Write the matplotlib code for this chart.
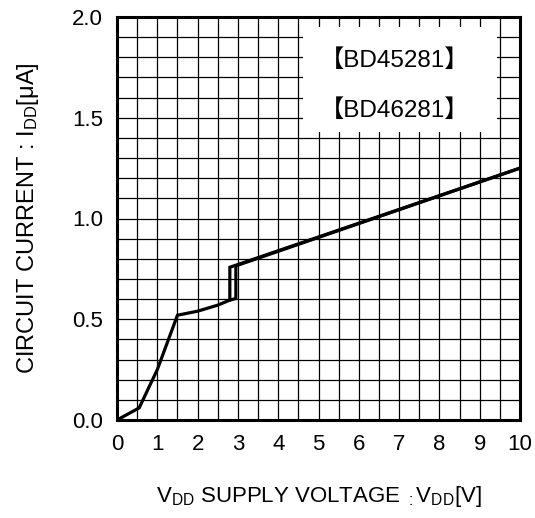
import matplotlib
matplotlib.use("Agg")
import matplotlib.pyplot as plt
from matplotlib.patches import Rectangle
import numpy as np

plt.rcParams['font.family'] = ['Liberation Sans', 'Noto Sans CJK JP', 'DejaVu Sans']
plt.rcParams['mathtext.fontset'] = 'custom'
plt.rcParams['mathtext.rm'] = 'Liberation Sans'
plt.rcParams['mathtext.it'] = 'Liberation Sans'

# Data
vdd_a = [0.0, 0.55, 1.0, 1.5, 2.0, 2.5, 2.8, 2.8, 10.0]
idd_a = [0.0, 0.06, 0.25, 0.52, 0.54, 0.57, 0.595, 0.758, 1.25]
vdd_b = [2.8, 2.95, 2.95, 10.0]
idd_b = [0.595, 0.603, 0.765, 1.25]
labels = ['【BD45281】', '【BD46281】']
xticks = list(range(0, 11))
yticks = [0.0, 0.5, 1.0, 1.5, 2.0]

fs = 16
fig = plt.figure(figsize=(5.35, 5.18), dpi=100)
ax = fig.add_axes([117/535, 1-420/518, 403/535, 403/518])

ax.set_xlim(0, 10)
ax.set_ylim(0, 2.0)
ax.set_xticks(xticks)
ax.set_yticks(yticks)
ax.set_xticklabels([str(t) for t in xticks])
ax.set_yticklabels([f"{t:.1f}" for t in yticks])
ax.set_xticks(np.arange(0, 10.01, 0.5), minor=True)
ax.set_yticks(np.arange(0, 2.001, 0.1), minor=True)
ax.tick_params(which='both', length=0, labelsize=fs)
ax.tick_params(axis='y', pad=10)
ax.tick_params(axis='x', pad=10)
ax.grid(True, which='both', color='black', linewidth=0.9)
ax.set_axisbelow(True)
for s in ax.spines.values():
    s.set_linewidth(2.2)

ax.add_patch(Rectangle((4.62, 1.43), 4.8, 0.52, facecolor='white', edgecolor='none', zorder=1))
ax.text(6.9, 1.785, labels[0], ha='center', va='center', fontsize=17.5, zorder=2)
ax.text(6.9, 1.535, labels[1], ha='center', va='center', fontsize=17.5, zorder=2)

ax.plot(vdd_a, idd_a, color='black', linewidth=2.3, zorder=3, solid_joinstyle='miter')
ax.plot(vdd_b, idd_b, color='black', linewidth=2.3, zorder=3, solid_joinstyle='miter')

ax.set_xlabel(r'V$_{\mathrm{DD}}$ SUPPLY VOLTAGE $_{:}$V$_{\mathrm{DD}}$[V]', fontsize=fs, labelpad=21)
ax.set_ylabel(r'CIRCUIT CURRENT : I$_{\mathrm{DD}}$[μA]', fontsize=17)
ax.yaxis.set_label_coords(-(117 - 41) / 403, 0.5)

fig.savefig('out.png', dpi=100)
